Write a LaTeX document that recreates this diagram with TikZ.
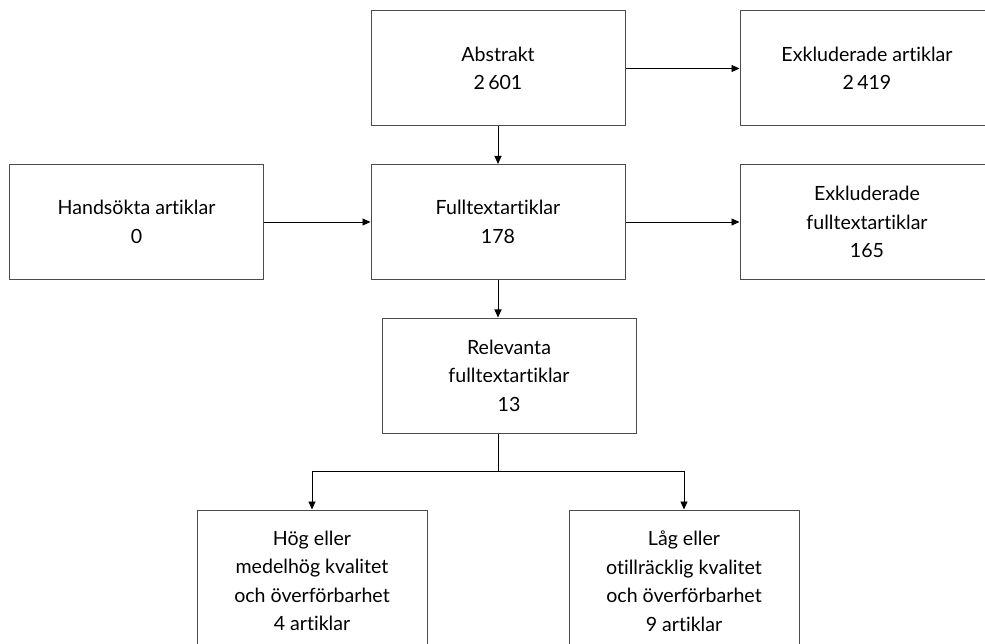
\documentclass[tikz,border=0pt]{standalone}
\usepackage{fontspec}
\setmainfont{Lato}[Ligatures=NoCommon]
\usetikzlibrary{arrows.meta}
\begin{document}
\begin{tikzpicture}[x=1pt,y=-1pt,
  box/.style={draw=black!70, line width=1pt, minimum width=254pt, minimum height=115pt,
    align=center, inner sep=0pt, font=\fontsize{19.6}{28.5}\selectfont},
  lowbox/.style={box, minimum width=230pt, minimum height=142pt},
  arr/.style={-{Triangle[length=8pt,width=7pt]}, line width=0.9pt}]
\useasboundingbox (0,0) rectangle (985,644);
\clip (0,0) rectangle (985,644);
\node[box] (abs) at (498,68.5) {Abstrakt\\2\,601};
\node[box] (exa) at (867,68.5) {Exkluderade artiklar\\2\,419};
\node[box] (hand) at (136.5,222) {Handsökta artiklar\\0};
\node[box] (ful) at (498,222) {Fulltextartiklar\\178};
\node[box] (exf) at (867,222) {Exkluderade\\fulltextartiklar\\165};
\node[box] (rel) at (509,375.5) {Relevanta\\fulltextartiklar\\13};
\node[lowbox] (hog) at (312,581) {Hög eller\\medelhög kvalitet\\och överförbarhet\\4 artiklar};
\node[lowbox] (lag) at (684,581) {Låg eller\\otillräcklig kvalitet\\och överförbarhet\\9 artiklar};
\coordinate (bj) at (498,471);
\draw[arr] (abs) -- (exa);
\draw[arr] (abs) -- (ful);
\draw[arr] (hand) -- (ful);
\draw[arr] (ful) -- (exf);
\draw[arr] (ful.south) -- (ful.south |- rel.north);
\draw[line width=0.9pt] (rel.south -| ful.south) -- (bj);
\draw[arr] (bj) -| (hog.north);
\draw[arr] (bj) -| (lag.north);
\end{tikzpicture}
\end{document}
